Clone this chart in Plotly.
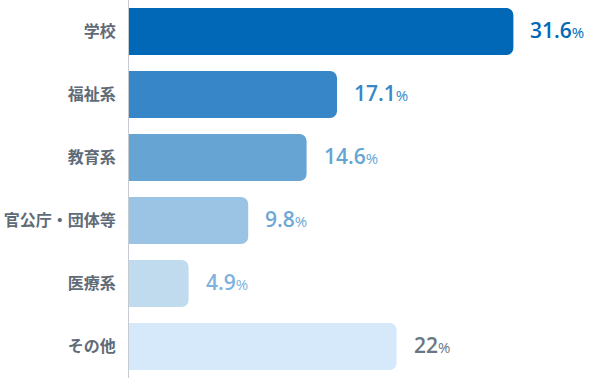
import plotly.graph_objects as go

categories = ["学校", "福祉系", "教育系", "官公庁・団体等", "医療系", "その他"]
values = [31.6, 17.1, 14.6, 9.8, 4.9, 22]
value_labels = ["31.6", "17.1", "14.6", "9.8", "4.9", "22"]
bar_colors = ["#0068b7", "#3787c8", "#66a5d3", "#9bc4e4", "#c0dbee", "#d6e9fb"]
label_colors = ["#0068b7", "#3787c8", "#66a5d3", "#6fa8d6", "#7fb2dc", "#6b7683"]

fig = go.Figure()
fig.add_trace(go.Bar(
    x=values, y=categories, orientation="h",
    marker=dict(color=bar_colors, cornerradius=7, line=dict(width=0)),
    hoverinfo="skip",
))

for c, v, t, col in zip(categories, values, value_labels, label_colors):
    fig.add_annotation(
        x=v, y=c, xref="x", yref="y", xanchor="left", yanchor="middle",
        xshift=15, yshift=2, showarrow=False,
        text=f"{t}<span style='font-size:15px;font-weight:400'>%</span>",
        font=dict(family="Open Sans", size=21, color=col, weight=600),
    )

fig.update_layout(
    width=590, height=378,
    margin=dict(l=129, r=0, t=0, b=0),
    paper_bgcolor="white", plot_bgcolor="white",
    bargap=0.254, showlegend=False,
    xaxis=dict(range=[0, 37.9], visible=False, fixedrange=True, automargin=False),
    yaxis=dict(
        categoryorder="array", categoryarray=categories, autorange="reversed",
        showline=True, linecolor="#c5cbd1", linewidth=1, showgrid=False,
        ticks="", ticklabelstandoff=9, automargin=False,
        tickfont=dict(family="Noto Sans CJK JP", size=16, color="#5f6b77", weight=700),
        fixedrange=True,
    ),
)

fig.write_html(
    "out.html",
    config={"displayModeBar": False},
    post_script="document.body.style.margin='0';document.body.style.overflow='hidden';",
)
